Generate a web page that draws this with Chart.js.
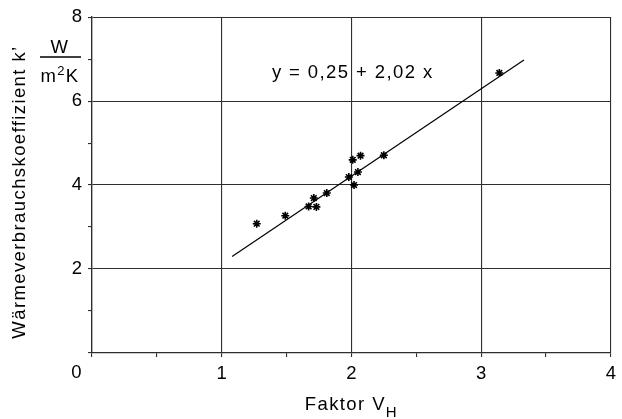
<!DOCTYPE html>
<html>
<head>
<meta charset="utf-8">
<script src="https://cdn.jsdelivr.net/npm/chart.js@4"></script>
<style>
  html, body { margin: 0; padding: 0; background: #fff; }
  #wrap { width: 622px; height: 419px; }
</style>
</head>
<body>
<div id="wrap"><canvas id="chart" width="622" height="419"></canvas></div>
<script>
// measured points: Faktor V_H vs k'
const vhValues = [1.27, 1.49, 1.67, 1.71, 1.73, 1.81, 1.98, 2.01, 2.02, 2.05, 2.07, 2.25, 3.14];
const kValues = [3.08, 3.27, 3.49, 3.69, 3.48, 3.81, 4.19, 4.60, 4.00, 4.31, 4.70, 4.71, 6.67];

// regression line as drawn (end points)
const fitX = [1.08, 3.33];
const fitY = [2.30, 6.98];

const xTickLabels = ["1", "2", "3", "4"];
const yTickLabels = ["2", "4", "6", "8"];

const equationText = "y = 0,25 + 2,02 x";
const equationPos = [2.01, 6.67];
const yTitle = "Wärmeverbrauchskoeffizient k’";
const xTitle = "Faktor V";
const xTitleSub = "H";

const FONT = '"Liberation Sans", Arial, sans-serif';
const INK = "#000";
const GRID = "#2e2e2e";

const extraText = {
  id: "extraText",
  afterDraw(chart) {
    const ctx = chart.ctx;
    const xs = chart.scales.x;
    const ys = chart.scales.y;
    ctx.save();
    ctx.fillStyle = INK;
    ctx.strokeStyle = INK;
    ctx.letterSpacing = "1.4px";
    ctx.font = "18.5px " + FONT;
    ctx.textBaseline = "middle";
    ctx.textAlign = "center";

    // shared origin label
    ctx.fillText("0", xs.getPixelForValue(0) - 15, xs.top + 20);

    // regression equation
    ctx.fillText(equationText, xs.getPixelForValue(equationPos[0]), ys.getPixelForValue(equationPos[1]));

    // y axis title
    ctx.save();
    ctx.translate(20, (ys.top + ys.bottom) / 2 + 7);
    ctx.rotate(-Math.PI / 2);
    ctx.fillText(yTitle, 0, 0);
    ctx.restore();

    // unit W / m2K
    const ux = 60;
    const lineY = ys.getPixelForValue(7.05);
    ctx.fillText("W", ux, lineY - 9);
    ctx.lineWidth = 1.4;
    ctx.beginPath();
    ctx.moveTo(ux - 20, lineY);
    ctx.lineTo(ux + 21, lineY);
    ctx.stroke();
    ctx.textAlign = "left";
    ctx.textBaseline = "alphabetic";
    const mW = ctx.measureText("m").width;
    ctx.font = "13px " + FONT;
    const twoW = ctx.measureText("2").width;
    ctx.font = "18.5px " + FONT;
    const kW = ctx.measureText("K").width;
    let px = ux - (mW + twoW + kW) / 2;
    const base = lineY + 25;
    ctx.fillText("m", px, base);
    px += mW;
    ctx.font = "13px " + FONT;
    ctx.fillText("2", px, base - 7);
    px += twoW;
    ctx.font = "18.5px " + FONT;
    ctx.fillText("K", px, base);

    // x axis title with subscript
    const mainW = ctx.measureText(xTitle).width;
    ctx.font = "15px " + FONT;
    const subW = ctx.measureText(xTitleSub).width;
    const cx = (xs.left + xs.right) / 2;
    const tx = cx - (mainW + subW) / 2;
    ctx.font = "18.5px " + FONT;
    ctx.fillText(xTitle, tx, 410);
    ctx.font = "15px " + FONT;
    ctx.fillText(xTitleSub, tx + mainW, 417);

    ctx.restore();
  }
};

const isInt = (v) => Math.abs(v - Math.round(v)) < 1e-6;

new Chart(document.getElementById("chart"), {
  type: "scatter",
  data: {
    datasets: [
      {
        label: "Messwerte",
        data: vhValues.map((x, i) => ({ x: x, y: kValues[i] })),
        pointStyle: "star",
        pointRadius: 4,
        borderColor: INK,
        backgroundColor: INK,
        borderWidth: 1.6
      },
      {
        label: "Regression",
        data: fitX.map((x, i) => ({ x: x, y: fitY[i] })),
        showLine: true,
        pointRadius: 0,
        borderColor: INK,
        borderWidth: 1.2,
        fill: false
      }
    ]
  },
  options: {
    responsive: false,
    animation: false,
    layout: { padding: { left: 0, right: 5, top: 17, bottom: 0 } },
    plugins: {
      legend: { display: false },
      tooltip: { enabled: false }
    },
    scales: {
      x: {
        type: "linear",
        min: 0,
        max: 4,
        afterFit: (scale) => { scale.height = 66; },
        border: { display: true, color: GRID, width: 1.3 },
        grid: {
          color: (c) => (isInt(c.tick.value) ? GRID : "rgba(0,0,0,0)"),
          tickColor: GRID,
          tickLength: 4,
          lineWidth: 1.1
        },
        ticks: {
          stepSize: 0.5,
          autoSkip: false,
          maxRotation: 0,
          padding: 6,
          color: INK,
          font: { family: FONT, size: 18.5 },
          callback: (v) => (isInt(v) && v > 0 ? xTickLabels[Math.round(v) - 1] : "")
        }
      },
      y: {
        min: 0,
        max: 8,
        afterFit: (scale) => { scale.width = 92; },
        border: { display: true, color: GRID, width: 1.3 },
        grid: {
          color: (c) => (c.tick.value % 2 === 0 ? GRID : "rgba(0,0,0,0)"),
          tickColor: GRID,
          tickLength: 4,
          lineWidth: 1.1
        },
        ticks: {
          stepSize: 1,
          autoSkip: false,
          padding: 6,
          color: INK,
          font: { family: FONT, size: 18.5 },
          callback: (v) => (v > 0 && v % 2 === 0 ? yTickLabels[v / 2 - 1] : "")
        }
      }
    }
  },
  plugins: [extraText]
});
</script>
</body>
</html>
